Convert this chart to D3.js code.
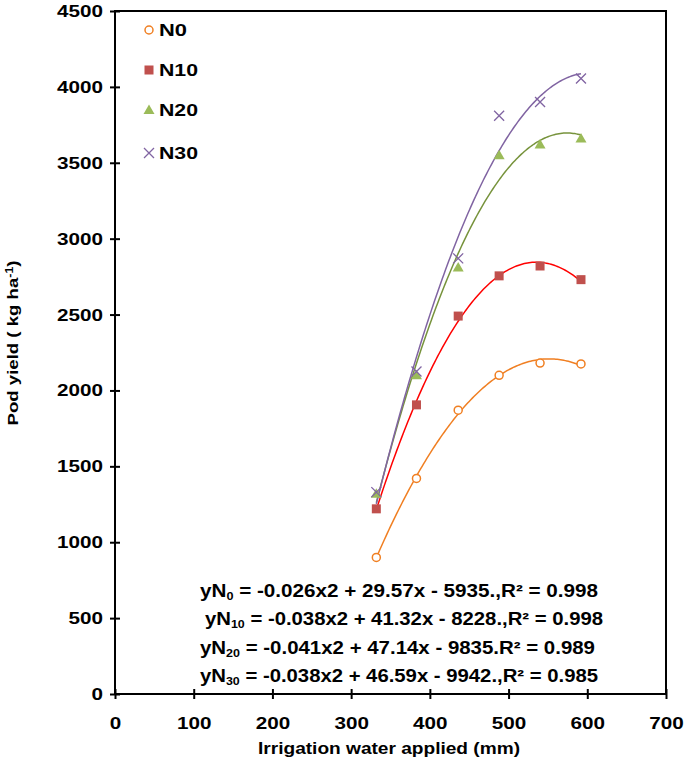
<!DOCTYPE html>
<html>
<head>
<meta charset="utf-8">
<script src="https://cdn.jsdelivr.net/npm/d3@7"></script>
<style>
  body { margin: 0; background: #fff; }
  text { font-family: "Liberation Sans", Arial, sans-serif; font-weight: bold; }
</style>
</head>
<body>
<div id="chart"></div>
<script>
// irrigation water applied (mm)
const water = [332, 383, 436, 488, 540, 592];
// pod yield (kg/ha) per nitrogen level
const yN0  = [900, 1420, 1870, 2100, 2180, 2175];
const yN10 = [1220, 1905, 2490, 2755, 2820, 2730];
const yN20 = [1320, 2100, 2810, 3550, 3620, 3660];
const yN30 = [1330, 2125, 2870, 3810, 3900, 4055];
const seriesNames = ['N0', 'N10', 'N20', 'N30'];
const xTicks = [0, 100, 200, 300, 400, 500, 600, 700];
const yTicks = [0, 500, 1000, 1500, 2000, 2500, 3000, 3500, 4000, 4500];
const equations = [
  ['0', ' = -0.026x2 + 29.57x - 5935.,R² = 0.998'],
  ['10', ' = -0.038x2 + 41.32x - 8228.,R² = 0.998'],
  ['20', ' = -0.041x2 + 47.14x - 9835.R² = 0.989'],
  ['30', ' = -0.038x2 + 46.59x - 9942.,R² = 0.985']
];

const w = 685, h = 765;
const padL = 115, padR = 666, padT = 11, padB = 694;

const series = [
  { name: 'N0',  vals: yN0,  mark: 'circle',   mcol: '#F07F22', lcol: '#F07F22' },
  { name: 'N10', vals: yN10, mark: 'square',   mcol: '#C0504D', lcol: '#FF0000' },
  { name: 'N20', vals: yN20, mark: 'triangle', mcol: '#9BBB59', lcol: '#77933C' },
  { name: 'N30', vals: yN30, mark: 'cross',    mcol: '#8064A2', lcol: '#8064A2' }
];

const xScale = d3.scaleLinear().domain([0, 700]).range([padL, padR]);
const yScale = d3.scaleLinear().domain([0, 4500]).range([padB, padT]);

const svg = d3.select('#chart').append('svg')
  .attr('width', w).attr('height', h);

// quadratic least squares fit
const fitQuad = (xs, ys) => {
  let s = [0, 0, 0, 0, 0], t = [0, 0, 0];
  xs.forEach((x, i) => {
    for (let k = 0; k < 5; k++) s[k] += Math.pow(x, k);
    for (let k = 0; k < 3; k++) t[k] += ys[i] * Math.pow(x, k);
  });
  const A = [[s[0], s[1], s[2], t[0]], [s[1], s[2], s[3], t[1]], [s[2], s[3], s[4], t[2]]];
  for (let i = 0; i < 3; i++) {
    for (let j = i + 1; j < 3; j++) {
      const f = A[j][i] / A[i][i];
      for (let k = i; k < 4; k++) A[j][k] -= f * A[i][k];
    }
  }
  const c = [0, 0, 0];
  for (let i = 2; i >= 0; i--) {
    let v = A[i][3];
    for (let k = i + 1; k < 3; k++) v -= A[i][k] * c[k];
    c[i] = v / A[i][i];
  }
  return x => c[0] + c[1] * x + c[2] * x * x;
};

// trend lines
const line = d3.line().x(d => xScale(d[0])).y(d => yScale(d[1]));
series.forEach(s => {
  const f = fitQuad(water, s.vals);
  const pts = d3.range(water[0], water[water.length - 1] + 0.5, 2).map(x => [x, f(x)]);
  svg.append('path').attr('d', line(pts))
    .attr('fill', 'none').attr('stroke', s.lcol).attr('stroke-width', 1.5);
});

const drawMark = (g, type, col, x, y) => {
  if (type === 'circle') {
    g.append('circle').attr('cx', x).attr('cy', y).attr('r', 4)
      .attr('fill', '#fff').attr('stroke', col).attr('stroke-width', 1.5);
  } else if (type === 'square') {
    g.append('rect').attr('x', x - 4.5).attr('y', y - 4.5).attr('width', 9).attr('height', 9)
      .attr('fill', col);
  } else if (type === 'triangle') {
    g.append('path').attr('d', `M${x},${y - 5.5}L${x + 5.5},${y + 4}L${x - 5.5},${y + 4}Z`)
      .attr('fill', col);
  } else {
    g.append('path').attr('d', `M${x - 5},${y - 5}L${x + 5},${y + 5}M${x - 5},${y + 5}L${x + 5},${y - 5}`)
      .attr('stroke', col).attr('stroke-width', 1.3).attr('fill', 'none');
  }
};

series.forEach(s => {
  const g = svg.append('g');
  s.vals.forEach((v, i) => drawMark(g, s.mark, s.mcol, xScale(water[i]), yScale(v)));
});

// frame
svg.append('rect').attr('x', padL).attr('y', padT)
  .attr('width', padR - padL).attr('height', padB - padT)
  .attr('fill', 'none').attr('stroke', '#000').attr('stroke-width', 2);

// axes
const digitW = 11.5;
const xAxis = d3.axisBottom(xScale).tickValues(xTicks).tickSize(5).tickSizeOuter(0).tickFormat(d3.format('d'));
const gx = svg.append('g').attr('transform', `translate(0,${padB})`).call(xAxis);
gx.select('.domain').remove();
gx.selectAll('.tick line').attr('y1', -5).attr('stroke-width', 2);
gx.selectAll('.tick text').attr('y', 23).attr('font-size', 17).attr('font-weight', 'bold')
  .attr('font-family', '"Liberation Sans", Arial, sans-serif').attr('fill', '#000')
  .attr('textLength', d => String(d).length * digitW).attr('lengthAdjust', 'spacingAndGlyphs');

const yAxis = d3.axisLeft(yScale).tickValues(yTicks).tickSize(5).tickSizeOuter(0).tickFormat(d3.format('d'));
const gy = svg.append('g').attr('transform', `translate(${padL},0)`).call(yAxis);
gy.select('.domain').remove();
gy.selectAll('.tick line').attr('x1', 5).attr('stroke-width', 2);
gy.selectAll('.tick text').attr('x', -12).attr('font-size', 17).attr('font-weight', 'bold')
  .attr('font-family', '"Liberation Sans", Arial, sans-serif').attr('fill', '#000')
  .attr('textLength', d => String(d).length * digitW).attr('lengthAdjust', 'spacingAndGlyphs');

// axis titles
svg.append('text').attr('x', 389).attr('y', 754).attr('text-anchor', 'middle')
  .attr('font-size', 16).attr('textLength', 262).attr('lengthAdjust', 'spacingAndGlyphs')
  .text('Irrigation water applied (mm)');
svg.append('text').attr('transform', 'translate(18,343) rotate(-90)').attr('text-anchor', 'middle')
  .attr('font-size', 15).attr('textLength', 165).attr('lengthAdjust', 'spacingAndGlyphs')
  .html('Pod yield ( kg ha<tspan dy="-5" font-size="10">-1</tspan><tspan dy="5">)</tspan>');

// legend
const legY = [30, 70, 110, 153];
const legW = [28, 39, 39, 39];
series.forEach((s, i) => {
  drawMark(svg, s.mark, s.mcol, 149, legY[i]);
  svg.append('text').attr('x', 159).attr('y', legY[i] + 6).attr('font-size', 17)
    .attr('textLength', legW[i]).attr('lengthAdjust', 'spacingAndGlyphs').text(seriesNames[i]);
});

// regression equations
const eqY = [597, 625, 654, 682];
const eqX = [200, 205, 200, 200];
const eqW = [398, 398, 395, 398];
equations.forEach((e, i) => {
  const t = svg.append('text').attr('x', eqX[i]).attr('y', eqY[i]).attr('font-size', 18)
    .attr('textLength', eqW[i]).attr('lengthAdjust', 'spacingAndGlyphs');
  t.append('tspan').text('yN');
  t.append('tspan').attr('dy', 3).attr('font-size', 11).text(e[0]);
  t.append('tspan').attr('dy', -3).text(e[1]);
});
</script>
</body>
</html>
